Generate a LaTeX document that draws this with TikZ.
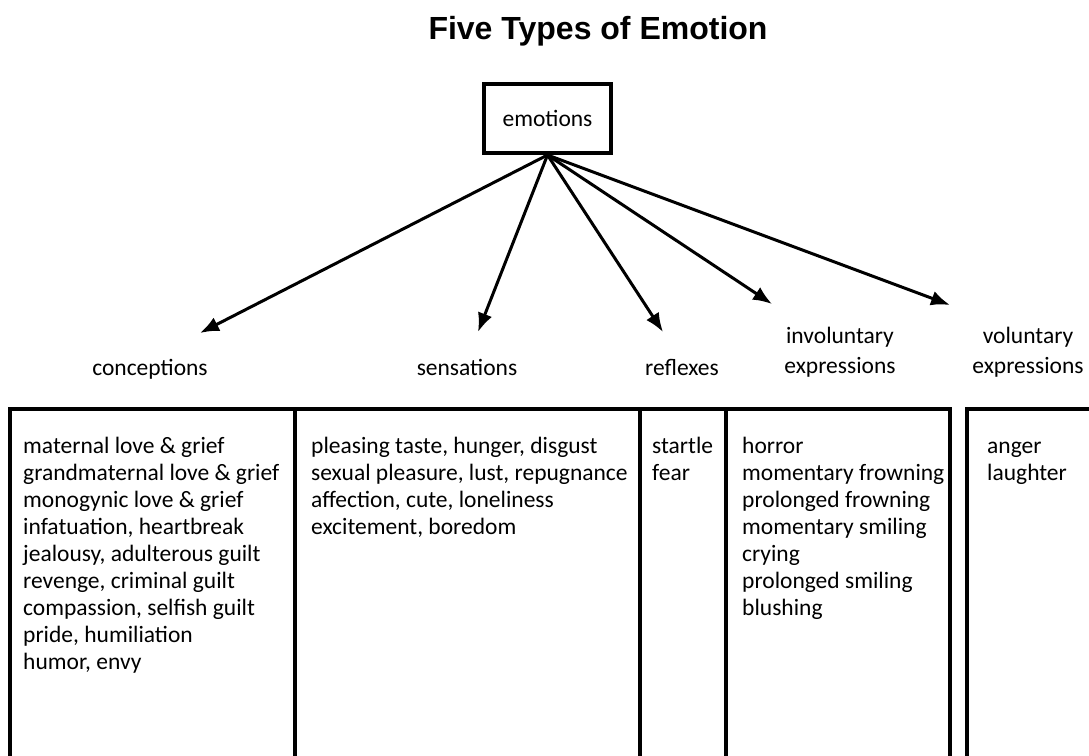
\documentclass[tikz,border=0pt]{standalone}
\usepackage{fontspec}
\setmainfont{Carlito}
\newfontfamily\titlefont{Liberation Sans}
\usetikzlibrary{arrows.meta}
\begin{document}
\begin{tikzpicture}[x=1pt, y=-1pt, >={Latex[length=19pt,width=15pt]},
    every node/.style={font=\fontsize{23.5}{27}\selectfont, inner sep=0pt},
    arr/.style={->, line width=3pt},
    tbl/.style={line width=3.5pt},
    lbl/.style={anchor=base},
    col/.style={align=left, anchor=base west}]
\useasboundingbox (0,0) rectangle (1089,755);
\node[font=\titlefont\bfseries\fontsize{32}{36}\selectfont] (title) at (598,31) {Five Types of Emotion};
\node[draw, line width=4pt, minimum width=127pt, minimum height=69pt] (emo) at (547.5,118.5) {emotions};
% category labels (base = last line)
\node[lbl] (conc) at (150,375) {conceptions};
\node[lbl] (sens) at (467,375) {sensations};
\node[lbl] (refl) at (682,375) {reflexes};
\node[lbl, align=center] (invol) at (840,373) {involuntary\\[3pt]expressions};
\node[lbl, align=center] (vol) at (1028,373) {voluntary\\[3pt]expressions};
% arrow tips
\coordinate (tconc) at (200,333);
\coordinate (tsens) at (478,332);
\coordinate (trefl) at (663,332);
\coordinate (tinvol) at (772,304);
\coordinate (tvol) at (950,305);
\foreach \t in {tconc,tsens,trefl,tinvol,tvol}
    \draw[arr] (emo.south) -- (\t);
% table
\draw[tbl] (10,760) -- (10,409) -- (950,409) -- (950,760);
\draw[tbl] (295,409) -- (295,760);
\draw[tbl] (640,409) -- (640,760);
\draw[tbl] (726,409) -- (726,760);
\draw[tbl] (967,760) -- (967,409) -- (1095,409);
% lists, placed at the baseline of their last line
\node[col] (conclist) at (23,669) {maternal love \& grief\\grandmaternal love \& grief\\monogynic love \& grief\\infatuation, heartbreak\\jealousy, adulterous guilt\\revenge, criminal guilt\\compassion, selfish guilt\\pride, humiliation\\humor, envy};
\node[col] (senslist) at (311,534) {pleasing taste, hunger, disgust\\sexual pleasure, lust, repugnance\\affection, cute, loneliness\\excitement, boredom};
\node[col] (refllist) at (652,480) {startle\\fear};
\node[col] (invollist) at (742,615) {horror\\momentary frowning\\prolonged frowning\\momentary smiling\\crying\\prolonged smiling\\blushing};
\node[col] (vollist) at (987,480) {anger\\laughter};
\end{tikzpicture}
\end{document}
